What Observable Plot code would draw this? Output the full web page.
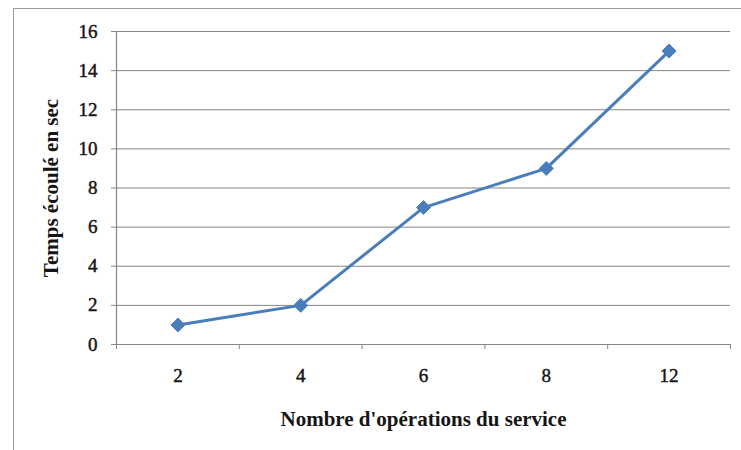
<!DOCTYPE html>
<html>
<head>
<meta charset="utf-8">
<script src="https://cdn.jsdelivr.net/npm/d3@7"></script>
<script src="https://cdn.jsdelivr.net/npm/@observablehq/plot@0.6"></script>
<style>
  html, body { margin: 0; padding: 0; background: #fff; }
  #wrap { position: relative; width: 741px; height: 450px; overflow: hidden; }
  #box { position: absolute; left: 13px; top: 8px; width: 760px; height: 460px;
         border: 1.5px solid #9a9a9a; box-sizing: border-box; }
  #chart { position: absolute; left: 0; top: 0; }
  #chart svg text { font-family: 'Liberation Serif', serif; }
  /* slightly heavier tick numbers */
  #chart svg g[aria-label$="tick label"] text { stroke: #151515; stroke-width: 0.45px; }
</style>
</head>
<body>
<div id="wrap"><div id="box"></div><div id="chart"></div></div>
<script>
// Number of operations per service (categories) and elapsed time in seconds
const operations = ["2", "4", "6", "8", "12"];
const seconds = [1, 2, 7, 9, 15];
const yTicks = [0, 2, 4, 6, 8, 10, 12, 14, 16];

// Categories sit at the centre of equal slots; slot i spans [i, i+1]
const rows = operations.map((op, i) => ({op, slot: i + 0.5, t: seconds[i]}));
const slotEdges = d3.range(operations.length + 1);
const slotCentres = operations.map((_, i) => i + 0.5);

const serif = "'Liberation Serif', 'Times New Roman', serif";
const lineColor = "#4a7ebb";
const ink = "#151515";
const axisGray = "#868686";

const chart = Plot.plot({
  width: 741,
  height: 450,
  marginLeft: 116,
  marginRight: 11,
  marginTop: 31,
  marginBottom: 106,
  style: {fontFamily: serif, fontSize: "19px", color: ink, background: "transparent"},
  x: {type: "linear", domain: [0, operations.length]},
  y: {domain: [0, 16]},
  marks: [
    Plot.gridY(yTicks, {stroke: axisGray, strokeOpacity: 1, strokeWidth: 1}),
    Plot.ruleY([0], {stroke: axisGray, strokeWidth: 1.2}),
    Plot.ruleX([0], {stroke: axisGray, strokeWidth: 1.2}),
    Plot.axisY(yTicks, {tickSize: 5, stroke: axisGray, tickPadding: 14, fontSize: 19, fontFamily: serif, label: null}),
    Plot.axisX(slotEdges, {tickSize: 5, stroke: axisGray, tickFormat: () => "", label: null}),
    Plot.axisX(slotCentres, {
      tickSize: 0, tickPadding: 24, fontSize: 19, fontFamily: serif,
      tickFormat: (d) => operations[Math.floor(d)], label: null
    }),
    Plot.line(rows, {x: "slot", y: "t", stroke: lineColor, strokeWidth: 3}),
    Plot.dot(rows, {x: "slot", y: "t", symbol: "diamond2", r: 6.3, fill: lineColor, stroke: lineColor, strokeWidth: 1}),
    Plot.text(["Nombre d'opérations du service"], {
      x: operations.length / 2, y: 0, dy: 75, fontFamily: serif, fontWeight: "bold", fontSize: 21, fill: ink
    }),
    Plot.text(["Temps écoulé en sec"], {
      frameAnchor: "left", textAnchor: "middle", dx: -65, rotate: -90,
      fontFamily: serif, fontWeight: "bold", fontSize: 21, fill: ink
    })
  ]
});
document.getElementById("chart").append(chart);
</script>
</body>
</html>
